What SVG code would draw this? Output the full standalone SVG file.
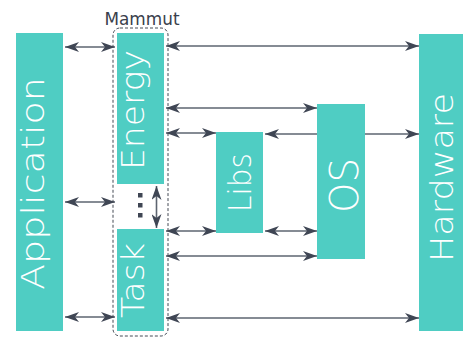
<svg xmlns="http://www.w3.org/2000/svg" width="463" height="337" viewBox="0 0 463 337">
  <defs>
    <marker id="head" viewBox="0 0 14 10" refX="14" refY="5" markerWidth="14" markerHeight="10" markerUnits="userSpaceOnUse" orient="auto-start-reverse">
      <path d="M0,0 L14,5 L0,10 L4,5 z" fill="#3f4654"/>
    </marker>
  </defs>
  <style>
    .box { fill: #4fcdc3; }
    .lbl { fill: #ffffff; font-family: "DejaVu Sans", "Liberation Sans", sans-serif; font-weight: 200; text-anchor: middle; }
    .link { stroke: #5d6470; stroke-width: 1.6; fill: none; marker-start: url(#head); marker-end: url(#head); }
    .dot { fill: #3f4654; }
  </style>
  <rect width="463" height="337" fill="#ffffff"/>

  <!-- connectors -->
  <g id="connectors">
    <line class="link" x1="65" y1="47" x2="115" y2="47"/>
    <line class="link" x1="166" y1="46" x2="419" y2="46"/>
    <line class="link" x1="166" y1="108" x2="317" y2="108"/>
    <line class="link" x1="166" y1="133" x2="216" y2="133"/>
    <line class="link" x1="265" y1="134" x2="419" y2="134"/>
    <line class="link" x1="65" y1="202" x2="115" y2="202"/>
    <line class="link" x1="156.5" y1="186" x2="156.5" y2="228"/>
    <line class="link" x1="166" y1="231" x2="216" y2="231"/>
    <line class="link" x1="265" y1="231" x2="317" y2="231"/>
    <line class="link" x1="166" y1="256" x2="317" y2="256"/>
    <line class="link" x1="65" y1="317" x2="115" y2="317"/>
    <line class="link" x1="166" y1="318" x2="419" y2="318"/>
  </g>

  <g id="application">
    <rect class="box" x="16" y="33" width="47" height="298"/>
    <text class="lbl" font-size="32" textLength="213" lengthAdjust="spacingAndGlyphs" transform="translate(44,183.5) rotate(-90)">Application</text>
  </g>

  <g id="mammut">
    <rect x="113" y="28" width="55" height="308" rx="7" fill="none" stroke="#444a55" stroke-width="1" stroke-dasharray="3,2"/>
    <text x="142" y="25" font-family="DejaVu Sans, Liberation Sans, sans-serif" font-size="18" font-weight="400" fill="#3a404c" text-anchor="middle" textLength="75" lengthAdjust="spacingAndGlyphs">Mammut</text>
  </g>

  <g id="energy">
    <rect class="box" x="117" y="33" width="47" height="151"/>
    <text class="lbl" font-size="32" textLength="120" lengthAdjust="spacingAndGlyphs" transform="translate(144,110) rotate(-90)">Energy</text>
  </g>

  <g id="ellipsis">
    <rect class="dot" x="138" y="193" width="4.5" height="4.5"/>
    <rect class="dot" x="138" y="203" width="4.5" height="4.5"/>
    <rect class="dot" x="138" y="213" width="4.5" height="4.5"/>
  </g>

  <g id="task">
    <rect class="box" x="117" y="229" width="47" height="102"/>
    <text class="lbl" font-size="32" textLength="75" lengthAdjust="spacingAndGlyphs" transform="translate(144,280.5) rotate(-90)">Task</text>
  </g>

  <g id="libs">
    <rect class="box" x="216" y="132" width="47" height="101"/>
    <text class="lbl" font-size="32" textLength="59" lengthAdjust="spacingAndGlyphs" transform="translate(251,182.5) rotate(-90)">Libs</text>
  </g>

  <g id="os">
    <rect class="box" x="317" y="104" width="48" height="155"/>
    <text class="lbl" font-size="39" textLength="55" lengthAdjust="spacingAndGlyphs" transform="translate(357.5,185.5) rotate(-90)">OS</text>
  </g>

  <g id="hardware">
    <rect class="box" x="419" y="34" width="46" height="297"/>
    <text class="lbl" font-size="32" textLength="169" lengthAdjust="spacingAndGlyphs" transform="translate(453,177.5) rotate(-90)">Hardware</text>
  </g>
</svg>
